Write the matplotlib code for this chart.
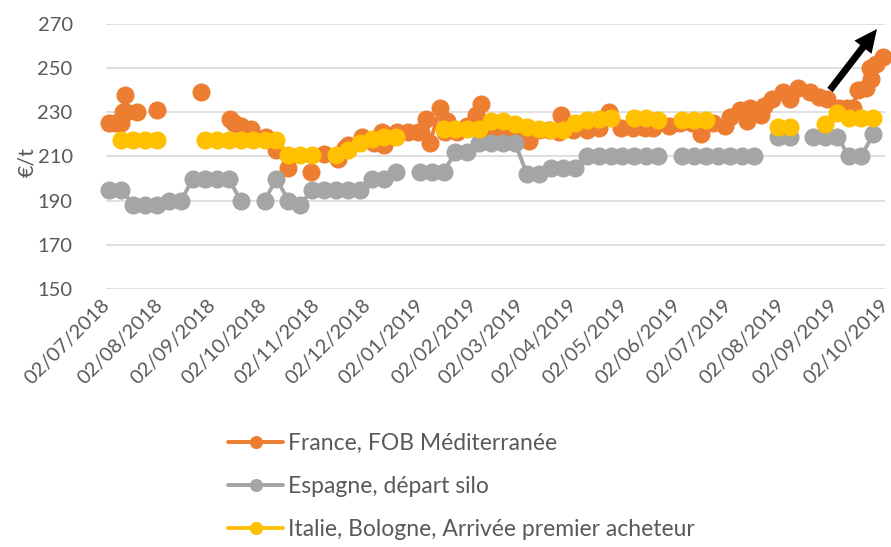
import matplotlib
matplotlib.use("Agg")
import matplotlib.pyplot as plt
import matplotlib.dates as mdates
import matplotlib.transforms as mtransforms
import numpy as np
import pandas as pd

plt.rcParams['font.family'] = ['Lato', 'DejaVu Sans']

# ---------------- data ----------------
nan = np.nan

# France, FOB Méditerranée (irregular dates; NaN = gap)
france_dates = [
    "2018-07-04", "2018-07-07", "2018-07-11", "2018-07-12", "2018-07-13", "2018-07-14", "2018-07-20",
    "2018-07-26",
    "2018-08-01",
    "2018-08-14",
    "2018-08-27",
    "2018-09-05",
    "2018-09-13", "2018-09-15", "2018-09-19", "2018-09-25", "2018-10-04", "2018-10-10", "2018-10-17",
    "2018-10-24",
    "2018-10-30",
    "2018-11-03",
    "2018-11-07", "2018-11-15", "2018-11-19", "2018-11-21", "2018-11-29", "2018-12-06", "2018-12-11",
    "2018-12-12", "2018-12-17", "2018-12-20", "2018-12-26", "2019-01-01", "2019-01-06", "2019-01-08",
    "2019-01-14", "2019-01-17", "2019-01-18", "2019-01-24", "2019-01-30", "2019-02-04", "2019-02-07",
    "2019-02-10", "2019-02-18", "2019-02-25", "2019-03-04", "2019-03-07", "2019-03-13", "2019-03-19",
    "2019-03-25", "2019-03-26", "2019-04-02", "2019-04-10", "2019-04-17", "2019-04-23", "2019-04-30",
    "2019-05-07", "2019-05-14", "2019-05-19", "2019-05-28", "2019-06-04", "2019-06-11", "2019-06-16",
    "2019-06-23", "2019-06-30", "2019-07-03", "2019-07-09", "2019-07-13", "2019-07-15", "2019-07-21",
    "2019-07-23", "2019-07-28", "2019-08-03", "2019-08-07", "2019-08-12", "2019-08-19", "2019-08-24",
    "2019-08-29", "2019-09-05", "2019-09-10", "2019-09-13", "2019-09-16", "2019-09-21", "2019-09-23",
    "2019-09-24", "2019-09-27", "2019-10-01",
]
france_values = [
    225, 225, 225, 230, 238, 230, 230,
    nan,
    231,
    nan,
    239,
    nan,
    227, 225, 224, 222.5, 219, 213, 205,
    nan,
    203,
    nan,
    211, 209, 214, 215, 219, 216, 221,
    215, 219.5, 221, 221, 221, 227, 216,
    232, 221, 226, 221, 224, 229, 234,
    222, 222, 222, 222, 217, 222, 222,
    221, 229, 222, 222, 223, 230, 223,
    223, 223, 223, 224, 225, 225, 220,
    225, 224, 228, 231, 226, 232, 229,
    233, 236, 239, 236, 241, 239, 237,
    236, 232, 232, 232, 240, 241, 250,
    245, 252, 255,
]

# Weekly series (Espagne, Italie)
weekly_start = "2018-07-04"
espagne_values = [
    195, 195, 188, 188, 188, 190, 190, 200, 200, 200,
    200, 190, nan, 190, 200, 190, 188, 195, 195, 195,
    195, 195, 200, 200, 203, nan, 203, 203, 203, 212,
    212, 216, 216, 216, 216, 202, 202, 205, 205, 205,
    210, 210, 210, 210, 210, 210, 210, nan, 210, 210,
    210, 210, 210, 210, 210, nan, 219, 219, nan, 219,
    219, 219, 210, 210, 220,
]
italie_values = [
    nan, 217.5, 217.5, 217.5, 217.5, nan, nan, nan, 217.5, 217.5,
    217.5, 217.5, 217.5, 217.5, 217.5, 210.5, 210.5, 210.5, nan, 210.5,
    213, 216, 218, 219, 219, nan, nan, nan, 222.5, 222.5,
    222.5, 222.5, 226, 226, 224.5, 223.5, 222.5, 222, 222, 225,
    226.5, 227, 227.5, nan, 227.5, 227.5, 226.5, nan, 226.5, 226.5,
    226.5, nan, nan, nan, nan, nan, 223.5, 223.5, nan, nan,
    224.5, 229.5, 227.5, 227.5, 227.5,
]

series_names = ["France, FOB Méditerranée", "Espagne, départ silo",
                "Italie, Bologne, Arrivée premier acheteur"]
tick_dates = ["2018-07-02", "2018-08-02", "2018-09-02", "2018-10-02", "2018-11-02",
              "2018-12-02", "2019-01-02", "2019-02-02", "2019-03-02", "2019-04-02",
              "2019-05-02", "2019-06-02", "2019-07-02", "2019-08-02", "2019-09-02",
              "2019-10-02"]
y_ticks = [150, 170, 190, 210, 230, 250, 270]

# ---------------- plot ----------------
c_orange = "#ED7D31"
c_gray = "#A5A5A5"
c_yellow = "#FFC000"
c_text = "#595959"

fig = plt.figure(figsize=(8.91, 5.47), dpi=100)
ax = fig.add_axes([106 / 891, 1 - 289 / 547, 779 / 891, 265 / 547])

fd = pd.to_datetime(france_dates)
wd = pd.date_range(weekly_start, periods=len(espagne_values), freq="7D")

ms = 12
lw = 2.8
l1, = ax.plot(fd, france_values, color=c_orange, lw=lw, marker="o", ms=ms,
              solid_capstyle="round", clip_on=False, zorder=3, label=series_names[0])
l2, = ax.plot(wd, espagne_values, color=c_gray, lw=lw, marker="o", ms=ms,
              solid_capstyle="round", clip_on=False, zorder=4, label=series_names[1])
l3, = ax.plot(wd, italie_values, color=c_yellow, lw=lw, marker="o", ms=ms,
              solid_capstyle="round", clip_on=False, zorder=5, label=series_names[2])

ax.set_xlim(pd.Timestamp(tick_dates[0]), pd.Timestamp(tick_dates[-1]))
ax.set_ylim(150, 270)
ax.set_yticks(y_ticks)
ax.set_xticks(pd.to_datetime(tick_dates))
ax.xaxis.set_major_formatter(mdates.DateFormatter("%d/%m/%Y"))

for s in ax.spines.values():
    s.set_visible(False)
ax.grid(axis="y", color="#D9D9D9", lw=1.2)
ax.set_axisbelow(True)
ax.tick_params(axis="both", length=0, labelsize=14.5, colors=c_text)
ax.tick_params(axis="y", pad=24)
ax.tick_params(axis="x", pad=5)
shift = mtransforms.ScaledTranslation(-5 / 100, 0, fig.dpi_scale_trans)
for lab in ax.get_xticklabels():
    lab.set_rotation(45)
    lab.set_ha("right")
    lab.set_rotation_mode("anchor")
    lab.set_transform(lab.get_transform() + shift)

fig.text(27 / 891, 1 - 162 / 547, "€/t", rotation=90, ha="center", va="center",
         fontsize=15.5, color=c_text)

# arrow annotation
ax.annotate("", xy=(0.9897, 0.981), xytext=(0.9294, 0.751), xycoords="axes fraction",
            textcoords="axes fraction",
            arrowprops=dict(arrowstyle="simple,head_length=0.66,head_width=0.62,tail_width=0.2",
                            mutation_scale=25, color="black", lw=0, shrinkA=0, shrinkB=0),
            annotation_clip=False, zorder=6)

leg = fig.legend(handles=[l1, l2, l3], loc="upper left",
                 bbox_to_anchor=(228 / 891, 1 - 433 / 547), frameon=False,
                 fontsize=16.5, labelcolor=c_text, handlelength=2.4, handletextpad=0.22,
                 labelspacing=0.97, borderpad=0, borderaxespad=0, markerscale=0.7)

fig.savefig("out.png", dpi=100)
